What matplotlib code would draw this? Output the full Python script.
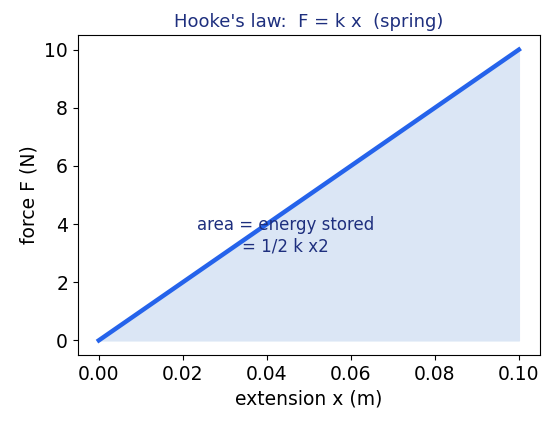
import numpy as np
import matplotlib.pyplot as plt

# Daten
extension = [0.0, 0.1]
force = [0.0, 10.0]

fig = plt.figure(figsize=(5.52, 4.23), dpi=100)
ax = fig.add_axes([0.141, 0.161, 0.837, 0.756])

ax.fill_between(extension, force, 0, color='#dbe6f5')
ax.plot(extension, force, color='#2563eb', linewidth=3.2)

ax.text(0.0445, 3.6, 'area = energy stored\n= 1/2 k x2', ha='center', va='center',
        fontsize=12, color='#1e2f7e')

ax.set_title("Hooke's law:  F = k x  (spring)", fontsize=13, color='#1e2f7e')
ax.set_xlabel('extension x (m)', fontsize=13.5)
ax.set_ylabel('force F (N)', fontsize=13.5)
ax.tick_params(labelsize=13.5)
ax.set_xlim(-0.005, 0.105)
ax.set_ylim(-0.5, 10.5)

fig.savefig('out.png')
